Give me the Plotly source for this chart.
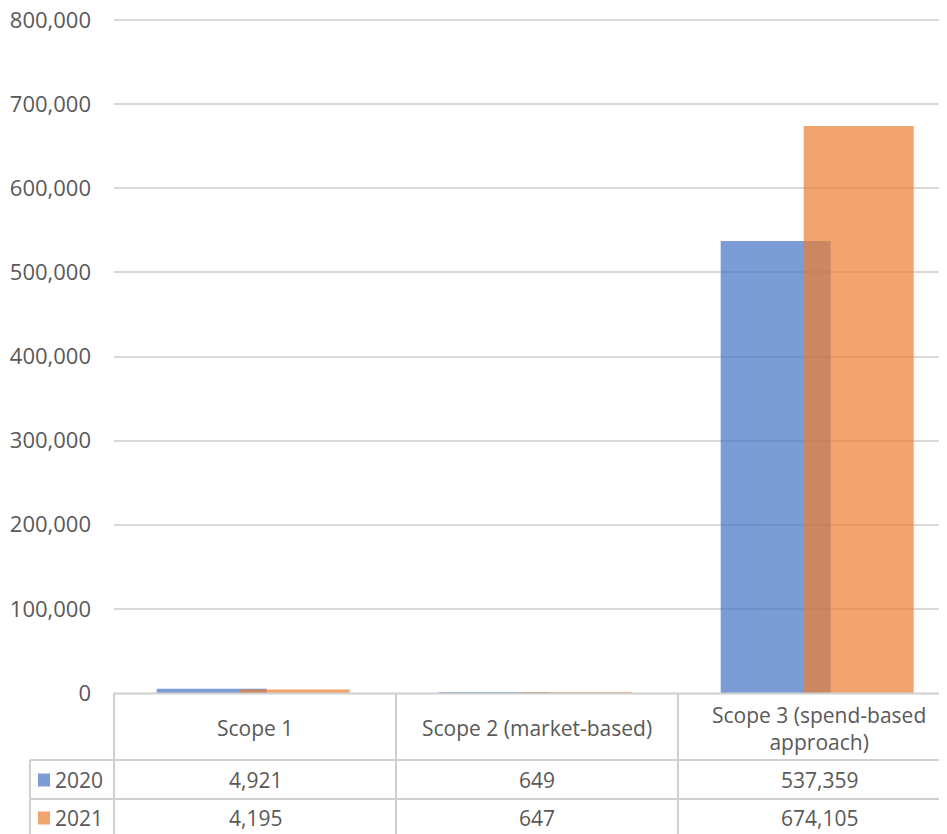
import textwrap
import plotly.graph_objects as go

categories = ["Scope 1", "Scope 2 (market-based)", "Scope 3 (spend-based approach)"]
series_names = ["2020", "2021"]
values_2020 = [4921, 649, 537359]
values_2021 = [4195, 647, 674105]
y_ticks = [0, 100000, 200000, 300000, 400000, 500000, 600000, 700000, 800000]

OFF = 8  # page body margin
WIN_W, WIN_H = 947, 834
W, H = WIN_W - OFF, WIN_H - OFF
# window-pixel layout
L_win, BOT_win = 114, 693
Y800_win = 20          # where the 800,000 gridline sits
T_win = 8              # top of plot area (a little above the top gridline)
L = L_win - OFF
T = T_win - OFF
B = H - (BOT_win - OFF)
plot_w = W - L
plot_h = H - T - B
cat_px = 282.0
y_top = y_ticks[-1] * (BOT_win - T_win) / (BOT_win - Y800_win)

colors = ["#4472c4", "#ed7d31"]
key_colors = ["rgba(68,114,196,0.7)", "rgba(237,125,49,0.7)"]
txt = "#595959"
grid = "#d9d9d9"
line = "#d0d0d0"
FONT = "Open Sans"


def px_x(x):  # window x -> paper
    return (x - L_win) / plot_w


def px_y(y):  # window y -> paper
    return (BOT_win - y) / plot_h


xs = list(range(len(categories)))
fig = go.Figure()
offsets = [-0.3486, -0.0543]
for name, vals, col, off in zip(series_names, [values_2020, values_2021], colors, offsets):
    fig.add_trace(go.Bar(
        x=xs, y=vals, name=name, marker=dict(color=col, line=dict(width=0)),
        opacity=0.7, width=0.39, offset=off, showlegend=False,
    ))

shapes = []
annotations = []
# table horizontal lines
for y in [693.4, 760, 799]:
    x0 = L_win if y < 700 else 30
    shapes.append(dict(type="line", xref="paper", yref="paper",
                       x0=px_x(x0), x1=1.0, y0=px_y(y), y1=px_y(y),
                       line=dict(color=line, width=2)))
# table vertical lines
for i in range(len(categories)):
    xp = L_win + i * cat_px
    shapes.append(dict(type="line", xref="paper", yref="paper",
                       x0=px_x(xp), x1=px_x(xp), y0=px_y(693), y1=px_y(845),
                       line=dict(color=line, width=2)))
shapes.append(dict(type="line", xref="paper", yref="paper",
                   x0=px_x(30), x1=px_x(30), y0=px_y(760), y1=px_y(845),
                   line=dict(color=line, width=2)))

# header labels
for i, c in enumerate(categories):
    label = "<br>".join(textwrap.wrap(c, 22))
    annotations.append(dict(x=i, xref="x", y=px_y(728), yref="paper", text=label,
                            showarrow=False, font=dict(family=FONT, size=21, color=txt),
                            xanchor="center", yanchor="middle"))
# rows
row_y = [780, 818]
for r, (name, vals) in enumerate(zip(series_names, [values_2020, values_2021])):
    for i, v in enumerate(vals):
        annotations.append(dict(x=i, xref="x", y=px_y(row_y[r]), yref="paper",
                                text=f"{v:,}", showarrow=False,
                                font=dict(family=FONT, size=21, color=txt),
                                xanchor="center", yanchor="middle"))
    annotations.append(dict(x=px_x(53), xref="paper", y=px_y(row_y[r]), yref="paper",
                            text=name, showarrow=False,
                            font=dict(family=FONT, size=21, color=txt),
                            xanchor="left", yanchor="middle"))
    shapes.append(dict(type="rect", xref="paper", yref="paper",
                       x0=px_x(38), x1=px_x(50),
                       y0=px_y(row_y[r] - 6.5), y1=px_y(row_y[r] + 6.5),
                       fillcolor=key_colors[r], line=dict(width=0)))

fig.update_layout(
    width=W, height=H,
    margin=dict(l=L, r=0, t=T, b=B, pad=0),
    paper_bgcolor="white", plot_bgcolor="white",
    barmode="overlay",
    shapes=shapes, annotations=annotations,
    font=dict(family=FONT, color=txt),
    xaxis=dict(range=[-0.5, -0.5 + plot_w / cat_px], showticklabels=False,
               showgrid=False, zeroline=False, showline=False, fixedrange=True,
               automargin=False),
    yaxis=dict(range=[0, y_top], tickvals=y_ticks, tickformat=",",
               showgrid=True, gridcolor=grid, gridwidth=2,
               zeroline=False, showline=False, automargin=False,
               tickfont=dict(family=FONT, size=22, color=txt),
               ticklabelstandoff=22, ticklabeloverflow="allow"),
)

fig.write_html("out.html")
